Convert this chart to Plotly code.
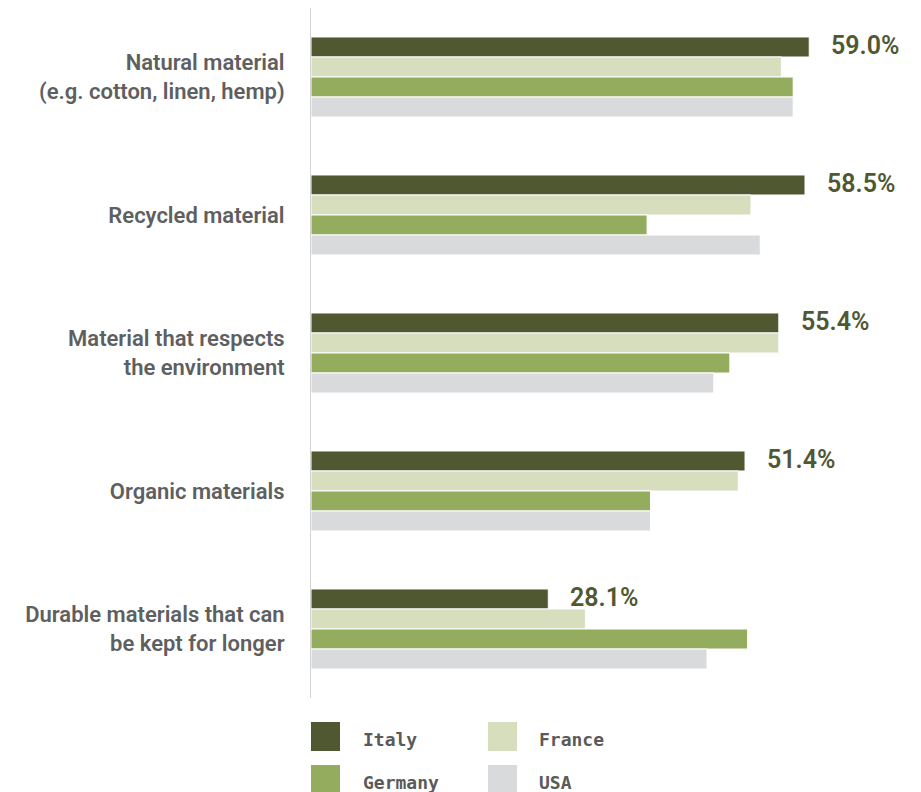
import plotly.graph_objects as go

categories = [
    "Natural material<br>(e.g. cotton, linen, hemp)",
    "Recycled material",
    "Material that respects<br>the environment",
    "Organic materials",
    "Durable materials that can<br>be kept for longer",
]
series_names = ["Italy", "France", "Germany", "USA"]
italy = [59.0, 58.5, 55.4, 51.4, 28.1]
france = [55.7, 52.1, 55.4, 50.6, 32.5]
germany = [57.1, 39.8, 49.6, 40.2, 51.7]
usa = [57.1, 53.2, 47.7, 40.2, 46.9]
values = [italy, france, germany, usa]
colors = ["#505832", "#d7debe", "#93ac5e", "#d9dadc"]

W, H = 921, 792
ML, MR, MT, MB = 311, 2, 8, 94
PW, PH = W - ML - MR, H - MT - MB


def px(x):
    return (x - ML) / PW


def py(y):
    return (H - MB - y) / PH


fig = go.Figure()
for name, vals, col in zip(series_names, values, colors):
    fig.add_trace(go.Bar(
        y=categories, x=vals, name=name, orientation="h",
        marker=dict(color=col, line=dict(color="white", width=1)),
        showlegend=False, hoverinfo="x+name",
    ))

annotations = []
for cat, v in zip(categories, italy):
    annotations.append(dict(
        x=v, y=cat, xref="x", yref="y", text=f"{v:.1f}%", showarrow=False,
        xanchor="left", yanchor="middle", xshift=20, yshift=32,
        font=dict(family="Roboto", size=25, color="#505832", weight=600),
    ))

# manual legend
legend_pos = [(311, 722, 361, 739), (488, 722, 537, 739), (311, 765, 361, 782), (488, 765, 537, 782)]
shapes = []
for (sx, sy, tx, ty), name, col in zip(legend_pos, series_names, colors):
    shapes.append(dict(type="rect", xref="paper", yref="paper",
                       x0=px(sx), x1=px(sx + 29), y0=py(sy), y1=py(sy + 29),
                       fillcolor=col, line=dict(width=0)))
    annotations.append(dict(x=px(tx), y=py(ty), xref="paper", yref="paper",
                            text=name, showarrow=False, xanchor="left", yanchor="middle",
                            font=dict(family="DejaVu Sans Mono", size=18, color="#5a5a5a", weight="bold")))

fig.update_layout(
    width=W, height=H,
    margin=dict(l=ML, r=MR, t=MT, b=MB, pad=0),
    paper_bgcolor="white", plot_bgcolor="white",
    barmode="group", bargap=0.42, bargroupgap=0,
    xaxis=dict(range=[0, 72], visible=False, showgrid=False, zeroline=False),
    yaxis=dict(autorange="reversed", showgrid=False, zeroline=False,
               showline=True, linecolor="#d3d3d3", linewidth=1,
               ticks="", ticklabelstandoff=21,
               tickfont=dict(family="Roboto", size=22, color="#5e5f61", weight=600)),
    annotations=annotations, shapes=shapes,
    showlegend=False,
)

fig.write_html("out.html")
